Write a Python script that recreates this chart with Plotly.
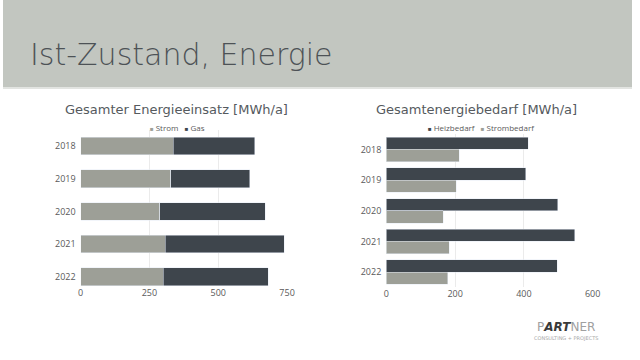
import plotly.graph_objects as go

years = ["2018", "2019", "2020", "2021", "2022"]
strom_einsatz = [336, 328, 288, 308, 300]
gas_einsatz = [296, 287, 383, 432, 381]
heizbedarf = [413, 405, 499, 548, 497]
strombedarf = [212, 204, 165, 183, 178]

GREY = "#9d9f97"
DARK = "#3e454c"
TXT = "#5a5a5a"
TICKFONT = dict(family="Open Sans", size=9, color=TXT)

fig = go.Figure()

# Left chart: stacked
fig.add_trace(go.Bar(y=years, x=strom_einsatz, orientation="h", marker_color=GREY,
                     name="Strom", xaxis="x", yaxis="y", offsetgroup="a"))
fig.add_trace(go.Bar(y=years, x=gas_einsatz, orientation="h", marker_color=DARK,
                     name="Gas", xaxis="x", yaxis="y", offsetgroup="a"))
# Right chart: grouped
fig.add_trace(go.Bar(y=years, x=heizbedarf, orientation="h", marker_color=DARK,
                     name="Heizbedarf", xaxis="x2", yaxis="y2",
                     offsetgroup="h", width=0.4, offset=-0.4))
fig.add_trace(go.Bar(y=years, x=strombedarf, orientation="h", marker_color=GREY,
                     name="Strombedarf", xaxis="x2", yaxis="y2",
                     offsetgroup="s", width=0.4, offset=0.0))
fig.update_traces(showlegend=False)

fig.update_layout(
    width=640, height=360,
    margin=dict(l=0, r=0, t=0, b=0),
    paper_bgcolor="white", plot_bgcolor="white",
    barmode="stack",
    bargap=0.46,
    showlegend=False,
    xaxis=dict(domain=[0.1234, 0.4516], range=[0, 750], dtick=250, tickfont=TICKFONT,
               showgrid=True, gridcolor="#ebebeb", gridwidth=1, zeroline=False,
               showline=False, ticks=""),
    yaxis=dict(domain=[0.2042, 0.6397], range=[4.3, -0.5], type="category",
               tickfont=TICKFONT, showgrid=False, zeroline=False, ticks="",
               ticklabelstandoff=4),
    xaxis2=dict(domain=[0.6094, 0.9375], range=[0, 600], dtick=200, tickfont=TICKFONT,
                showgrid=True, gridcolor="#ebebeb", gridwidth=1, zeroline=False,
                showline=False, ticks="", anchor="y2"),
    yaxis2=dict(domain=[0.2014, 0.6275], range=[4.5, -0.5], type="category",
                tickfont=TICKFONT, showgrid=False, zeroline=False, ticks="",
                anchor="x2", ticklabelstandoff=4),
)

# Header band
fig.add_shape(type="rect", xref="paper", yref="paper", x0=0, x1=1, y0=1 - 87 / 360, y1=1,
              fillcolor="#c2c6c0", line_width=0, layer="below")
fig.add_shape(type="rect", xref="paper", yref="paper", x0=0, x1=1, y0=1 - 89 / 360,
              y1=1 - 87 / 360, fillcolor="#e2e4e1", line_width=0, layer="below")

fig.add_annotation(text="Ist-Zustand, Energie", xref="paper", yref="paper",
                   x=25 / 640, y=1 - 54 / 360, xanchor="left", yanchor="middle",
                   showarrow=False,
                   font=dict(family="DejaVu Sans ExtraLight, DejaVu Sans Light, DejaVu Sans",
                             size=30, color="#4d5256", weight=200))

TITLEFONT = dict(family="DejaVu Sans", size=13, color="#555a5e")
fig.add_annotation(text="Gesamter Energieeinsatz [MWh/a]", xref="paper", yref="paper",
                   x=177 / 640, y=1 - 109 / 360, xanchor="center", yanchor="middle",
                   showarrow=False, font=TITLEFONT)
fig.add_annotation(text="Gesamtenergiebedarf [MWh/a]", xref="paper", yref="paper",
                   x=482 / 640, y=1 - 109 / 360, xanchor="center", yanchor="middle",
                   showarrow=False, font=TITLEFONT)

# Legends
LEGFONT = dict(family="Open Sans", size=8, color=TXT)
def sq(c):
    return f"<span style='color:{c};font-size:6px'>■</span>"
fig.add_annotation(text=f"{sq(GREY)} Strom   {sq(DARK)} Gas", xref="paper", yref="paper",
                   x=178 / 640, y=1 - 127 / 360, xanchor="center", yanchor="middle",
                   showarrow=False, font=LEGFONT)
fig.add_annotation(text=f"{sq(DARK)} Heizbedarf   {sq(GREY)} Strombedarf", xref="paper",
                   yref="paper", x=487 / 640, y=1 - 127 / 360, xanchor="center",
                   yanchor="middle", showarrow=False, font=LEGFONT)

# Logo
fig.add_annotation(text="<span style='color:#a0a0a0'>P</span><i><b>ART</b></i><span style='color:#a0a0a0'>NER</span>",
                   xref="paper", yref="paper", x=573 / 640, y=1 - 327 / 360,
                   xanchor="center", yanchor="middle", showarrow=False,
                   font=dict(family="DejaVu Sans", size=12, color="#3a3a3a"))
fig.add_annotation(text="CONSULTING + PROJECTS", xref="paper", yref="paper",
                   x=573 / 640, y=1 - 338 / 360, xanchor="center", yanchor="middle",
                   showarrow=False, font=dict(family="DejaVu Sans", size=5, color="#a8a8a8"))

fig.write_html("out.html", config={"displayModeBar": False},
               post_script="document.body.style.margin='0';document.body.style.overflow='hidden';")
